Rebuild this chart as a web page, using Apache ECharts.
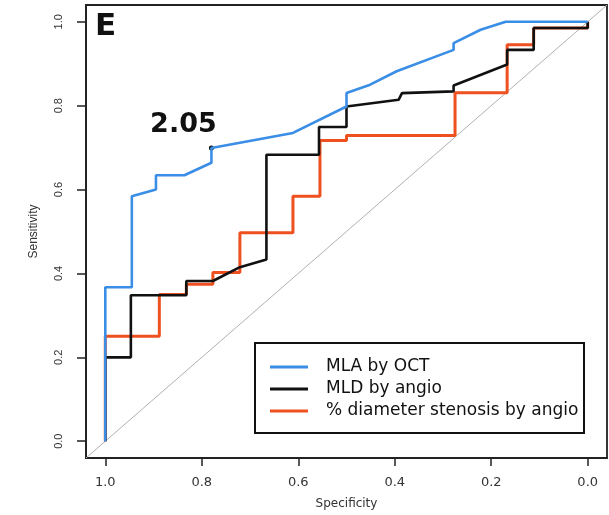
<!DOCTYPE html>
<html>
<head>
<meta charset="utf-8">
<script src="https://cdn.jsdelivr.net/npm/echarts@6/dist/echarts.min.js"></script>
<style>html,body{margin:0;padding:0;background:#fff;}#chart{width:609px;height:515px;}</style>
</head>
<body>
<div id="chart"></div>
<script>
// ---- data ----
const tickValues = [0, 0.2, 0.4, 0.6, 0.8, 1.0];
const seriesNames = ['MLA by OCT', 'MLD by angio', '% diameter stenosis by angio'];
const specBlue = [1.0, 1.0, 0.945, 0.945, 0.895, 0.895, 0.836, 0.780, 0.780, 0.611, 0.5, 0.5, 0.451, 0.396, 0.278, 0.278, 0.222, 0.170, 0.0];
const sensBlue = [0.0, 0.367, 0.367, 0.584, 0.600, 0.634, 0.634, 0.664, 0.699, 0.735, 0.798, 0.830, 0.850, 0.882, 0.933, 0.949, 0.981, 1.0, 1.0];
const specBlack = [1.0, 1.0, 0.947, 0.947, 0.832, 0.832, 0.777, 0.721, 0.666, 0.666, 0.557, 0.557, 0.5, 0.5, 0.392, 0.385, 0.278, 0.278, 0.167, 0.167, 0.112, 0.112, 0.0, 0.0];
const sensBlack = [0.0, 0.2, 0.2, 0.348, 0.348, 0.382, 0.382, 0.415, 0.433, 0.683, 0.683, 0.749, 0.749, 0.798, 0.814, 0.830, 0.834, 0.848, 0.898, 0.933, 0.933, 0.985, 0.985, 1.0];
const specOrange = [1.0, 1.0, 0.888, 0.888, 0.832, 0.832, 0.777, 0.777, 0.721, 0.721, 0.611, 0.611, 0.555, 0.555, 0.5, 0.5, 0.275, 0.275, 0.167, 0.167, 0.112, 0.112, 0.0, 0.0];
const sensOrange = [0.0, 0.25, 0.25, 0.35, 0.35, 0.374, 0.374, 0.402, 0.402, 0.497, 0.497, 0.584, 0.584, 0.717, 0.717, 0.729, 0.729, 0.831, 0.831, 0.945, 0.945, 0.985, 0.985, 1.0];
const diagSpec = [1.04, -0.04];
const diagSens = [-0.04, 1.04];
const cutoffPoint = [0.780, 0.699];
const cutoffLabel = '2.05';
const panelLabel = 'E';
const xName = 'Specificity';
const yName = 'Sensitivity';

const zip = (a, b) => a.map((v, i) => [v, b[i]]);
const colors = ['#3a8ee6', '#111111', '#ee5020'];

const chart = echarts.init(document.getElementById('chart'), null, {renderer: 'canvas'});
const option = {
  animation: false,
  backgroundColor: '#fff',
  grid: {left: 86, right: 2, top: 5, bottom: 57, show: true, borderColor: '#222', borderWidth: 1.8, containLabel: false},
  xAxis: {
    type: 'value', inverse: true, min: -0.04, max: 1.04,
    name: xName, nameLocation: 'middle', nameGap: 40,
    nameTextStyle: {fontFamily: 'DejaVu Sans', fontSize: 12, color: '#333'},
    axisLine: {show: true, onZero: false, lineStyle: {color: '#222', width: 1.8}},
    axisTick: {show: true, customValues: tickValues, length: 8, lineStyle: {color: '#222', width: 1.5}},
    axisLabel: {show: true, customValues: tickValues, margin: 18, fontFamily: 'DejaVu Sans', fontSize: 13, color: '#333', formatter: v => v.toFixed(1)},
    splitLine: {show: false}
  },
  yAxis: {
    type: 'value', min: -0.04, max: 1.04,
    name: yName, nameLocation: 'middle', nameGap: 46, nameRotate: 90,
    nameTextStyle: {fontFamily: 'Liberation Sans', fontSize: 12, color: '#333'},
    axisLine: {show: true, onZero: false, lineStyle: {color: '#222', width: 1.8}},
    axisTick: {show: true, customValues: tickValues, length: 9, lineStyle: {color: '#222', width: 1.5}},
    axisLabel: {show: true, customValues: tickValues, rotate: 90, margin: 22, fontFamily: 'Liberation Sans', fontSize: 11, color: '#333', formatter: v => v.toFixed(1)},
    splitLine: {show: false}
  },
  legend: {
    data: seriesNames,
    orient: 'vertical', left: 270, top: 356, padding: 0, itemGap: 0,
    itemWidth: 38, itemHeight: 14,
    textStyle: {fontFamily: 'DejaVu Sans', fontSize: 17, color: '#111', lineHeight: 22, padding: [0, 0, 0, 13]},
    icon: 'path://M0,0 L38,0 L38,3 L0,3 Z'
  },
  graphic: [
    {type: 'rect', z: 0, shape: {x: 255, y: 343, width: 329, height: 90}, style: {fill: '#fff', stroke: '#111', lineWidth: 2}},
    {type: 'text', z: 10, style: {x: 95, y: 27, text: panelLabel, fontFamily: 'DejaVu Sans', fontWeight: 'bold', fontSize: 31, fill: '#111', textVerticalAlign: 'middle'}}
  ],
  series: [
    {
      name: 'diag', type: 'line', data: zip(diagSpec, diagSens), symbol: 'none', silent: true, z: 1,
      lineStyle: {color: '#b0b0b0', width: 1}
    },
    {
      name: seriesNames[0], type: 'line', data: zip(specBlue, sensBlue), symbol: 'none', z: 5,
      itemStyle: {color: colors[0]}, lineStyle: {color: colors[0], width: 2.6},
      markPoint: {
        symbol: 'circle', symbolSize: 5, itemStyle: {color: '#111'},
        data: [{coord: cutoffPoint}],
        label: {show: true, formatter: cutoffLabel, position: 'inside', offset: [-28, -23], fontFamily: 'DejaVu Sans', fontWeight: 'bold', fontSize: 27, color: '#111'}
      }
    },
    {
      name: seriesNames[1], type: 'line', data: zip(specBlack, sensBlack), symbol: 'none', z: 4,
      itemStyle: {color: colors[1]}, lineStyle: {color: colors[1], width: 2.6}
    },
    {
      name: seriesNames[2], type: 'line', data: zip(specOrange, sensOrange), symbol: 'none', z: 3,
      itemStyle: {color: colors[2]}, lineStyle: {color: colors[2], width: 3}
    }
  ]
};
chart.setOption(option);
</script>
</body>
</html>
